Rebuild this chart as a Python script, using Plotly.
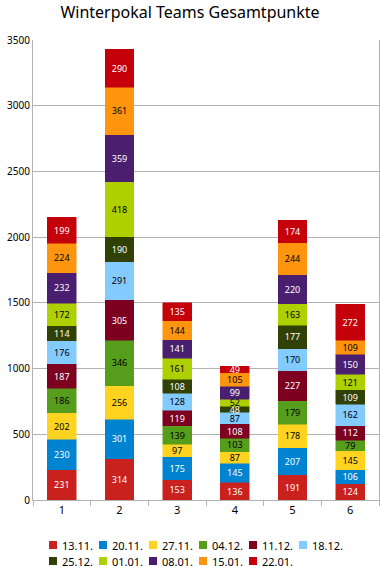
import plotly.graph_objects as go

teams = ["1", "2", "3", "4", "5", "6"]
weeks = ["13.11.", "20.11.", "27.11.", "04.12.", "11.12.", "18.12.",
         "25.12.", "01.01.", "08.01.", "15.01.", "22.01."]
values = {
    "13.11.": [231, 314, 153, 136, 191, 124],
    "20.11.": [230, 301, 175, 145, 207, 106],
    "27.11.": [202, 256, 97, 87, 178, 145],
    "04.12.": [186, 346, 139, 103, 179, 79],
    "11.12.": [187, 305, 119, 108, 227, 112],
    "18.12.": [176, 291, 128, 87, 170, 162],
    "25.12.": [114, 190, 108, 48, 177, 109],
    "01.01.": [172, 418, 161, 52, 163, 121],
    "08.01.": [232, 359, 141, 99, 220, 150],
    "15.01.": [224, 361, 144, 105, 244, 109],
    "22.01.": [199, 290, 135, 49, 174, 272],
}
colors = ["#C9211E", "#0084D1", "#FFD320", "#579D1C", "#7E0021", "#83CAFF",
          "#314004", "#AECF00", "#4B1F6F", "#FF950E", "#C5000B"]
text_colors = ["white", "white", "black", "black", "white", "black",
               "white", "black", "white", "black", "white"]

FONT = "Noto Sans"
W, H = 380, 566
L, R, T, B = 33, 1, 40, 66
PW, PH = W - L - R, H - T - B


def px_x(px):
    return (px - L) / PW


def px_y(py):
    return (H - B - py) / PH


fig = go.Figure()
for w, c, tc in zip(weeks, colors, text_colors):
    fig.add_trace(go.Bar(
        name=w, x=teams, y=values[w],
        marker=dict(color=c, line=dict(color=c, width=0.5)),
        text=[str(v) for v in values[w]],
        textposition="inside", insidetextanchor="middle", textangle=0,
        constraintext="none",
        textfont=dict(family=FONT, size=9, color=tc),
        hoverinfo="skip", showlegend=False,
    ))

# custom legend (two rows, six entries per row)
shapes, annots = [], []
for i, (w, c) in enumerate(zip(weeks, colors)):
    row, col = divmod(i, 6)
    x0 = 49 + 50 * col
    yc = 545 + 16 * row
    shapes.append(dict(type="rect", xref="paper", yref="paper",
                       x0=px_x(x0), x1=px_x(x0 + 8), y0=px_y(yc + 4), y1=px_y(yc - 4),
                       fillcolor=c, line=dict(width=0)))
    annots.append(dict(text=w, xref="paper", yref="paper", x=px_x(x0 + 11), y=px_y(yc),
                       xanchor="left", yanchor="middle", showarrow=False,
                       font=dict(family=FONT, size=11, color="black")))

fig.update_layout(
    barmode="stack", bargap=0.5,
    width=W, height=H,
    margin=dict(l=L, r=R, t=T, b=B),
    paper_bgcolor="white", plot_bgcolor="white",
    font=dict(family=FONT, size=10, color="black"),
    title=dict(text="Winterpokal Teams Gesamtpunkte", x=0.5, xanchor="center",
               y=0.978, yanchor="middle", font=dict(family=FONT, size=16, color="black")),
    showlegend=False,
    shapes=shapes, annotations=annots,
    xaxis=dict(type="category", showline=True, linecolor="#b3b3b3", ticks="outside",
               tickson="boundaries", ticklen=5, tickcolor="#b3b3b3",
               showgrid=False, tickfont=dict(size=11)),
    yaxis=dict(range=[0, 3500], dtick=500, showgrid=True, gridcolor="#b3b3b3",
               showline=True, linecolor="#b3b3b3", mirror=True, zeroline=False,
               ticks="", tickfont=dict(size=10)),
)
fig.write_html("out.html", config={"displayModeBar": False},
               post_script="document.body.style.margin='0';")
